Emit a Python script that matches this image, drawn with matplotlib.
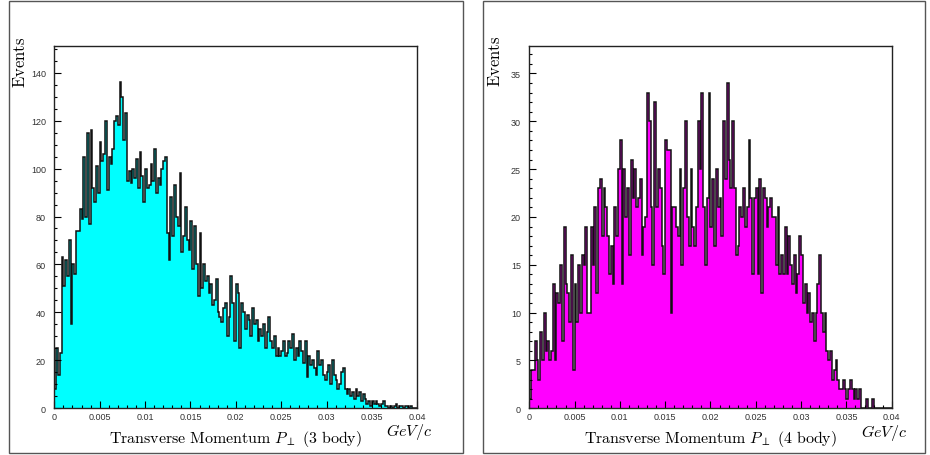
import numpy as np
import matplotlib
matplotlib.use("Agg")
import matplotlib.pyplot as plt
from matplotlib.patches import Rectangle
from matplotlib.ticker import MultipleLocator, FuncFormatter

plt.rcParams['mathtext.fontset'] = 'cm'

# 200 bins from 0 to 0.04 GeV/c
edges = np.linspace(0, 0.04, 201)

# 3 body transverse momentum, counts per bin
body3 = [
    8, 25, 14, 23, 63, 51, 62, 55, 70, 35,
    60, 56, 74, 74, 83, 79, 105, 80, 115, 77,
    116, 92, 86, 101, 90, 111, 103, 106, 120, 91,
    105, 102, 108, 120, 122, 118, 136, 130, 112, 123,
    95, 99, 94, 100, 96, 104, 92, 107, 97, 86,
    100, 92, 93, 102, 95, 108, 90, 96, 93, 100,
    103, 105, 73, 62, 88, 72, 93, 80, 76, 98,
    65, 72, 84, 70, 66, 78, 58, 76, 60, 47,
    73, 50, 60, 53, 55, 48, 52, 43, 45, 54,
    40, 38, 36, 42, 44, 30, 38, 55, 44, 28,
    52, 48, 25, 44, 40, 33, 39, 37, 30, 42,
    35, 37, 28, 33, 30, 35, 25, 32, 38, 28,
    25, 30, 22, 25, 22, 24, 28, 22, 23, 28,
    25, 31, 20, 25, 22, 28, 24, 19, 28, 13,
    22, 18, 20, 17, 14, 24, 18, 20, 14, 12,
    15, 18, 10, 20, 14, 12, 8, 10, 15, 17,
    8, 6, 8, 5, 7, 4, 8, 5, 7, 3,
    6, 4, 2, 3, 1, 3, 2, 3, 2, 1,
    2, 3, 1, 1, 0, 1, 0, 1, 2, 0,
    1, 1, 0, 1, 1, 0, 1, 0, 0, 0,
]

# 4 body transverse momentum
body4 = [
    1, 4, 4, 7, 5, 3, 8, 5, 10, 6,
    7, 5, 6, 13, 5, 12, 11, 15, 7, 19,
    13, 12, 9, 16, 4, 13, 9, 15, 10, 16,
    15, 19, 10, 10, 19, 15, 21, 12, 23, 24,
    18, 23, 21, 18, 14, 17, 13, 21, 18, 25,
    28, 13, 25, 20, 23, 16, 26, 22, 25, 21,
    22, 24, 16, 19, 20, 33, 30, 21, 15, 32,
    21, 25, 23, 17, 14, 28, 27, 27, 10, 21,
    21, 19, 18, 25, 15, 23, 30, 20, 17, 25,
    19, 17, 21, 30, 25, 33, 21, 15, 22, 33,
    19, 24, 17, 25, 21, 22, 18, 30, 24, 34,
    26, 23, 30, 23, 16, 17, 21, 20, 23, 19,
    21, 28, 22, 14, 22, 23, 14, 24, 12, 23,
    22, 19, 21, 22, 20, 20, 15, 21, 14, 16,
    14, 19, 14, 18, 15, 13, 16, 12, 14, 18,
    16, 11, 13, 10, 12, 9, 10, 7, 10, 13,
    16, 10, 8, 10, 6, 5, 6, 3, 4, 5,
    3, 2, 2, 3, 2, 1, 2, 3, 2, 1,
    2, 1, 2, 0, 0, 0, 1, 0, 0, 1,
    0, 0, 0, 0, 0, 0, 0, 0, 0, 0,
]

panels = [
    (body3, '#00ffff', 151, 20, 5, '3 body', [0.0584, 0.1024, 0.3903, 0.7939]),
    (body4, '#ff00ff', 37.9, 5, 1, '4 body', [0.5691, 0.1024, 0.3897, 0.7952]),
]

fig = plt.figure(figsize=(9.3, 4.56), dpi=100)

# outer frames around each pad
for x0, x1 in [(9, 463), (483, 925)]:
    fig.patches.append(Rectangle((x0 / 930, 2 / 456), (x1 - x0) / 930, 452 / 456,
                                 transform=fig.transFigure, fill=False,
                                 edgecolor='#555555', lw=1.0))

def xfmt(v, pos):
    if abs(v) < 1e-9:
        return '0'
    return ('%.3f' % v).rstrip('0')

for vals, col, ymax, ymaj, ymin, lab, rect in panels:
    ax = fig.add_axes(rect)
    ax.stairs(vals, edges, fill=True, color=col, baseline=0)
    ax.stairs(vals, edges, color='#111111', lw=1.1, baseline=0)
    ax.set_xlim(0, 0.04)
    ax.set_ylim(0, ymax)
    ax.xaxis.set_major_locator(MultipleLocator(0.005))
    ax.xaxis.set_minor_locator(MultipleLocator(0.001))
    ax.yaxis.set_major_locator(MultipleLocator(ymaj))
    ax.yaxis.set_minor_locator(MultipleLocator(ymin))
    ax.xaxis.set_major_formatter(FuncFormatter(xfmt))
    ax.tick_params(which='both', direction='in', labelsize=6.5,
                   labelcolor='#333333', width=0.8)
    ax.tick_params(which='major', length=5)
    ax.tick_params(which='minor', length=2.5)
    ax.tick_params(axis='y', pad=6)
    ax.tick_params(axis='x', pad=3)
    for s in ax.spines.values():
        s.set_linewidth(1.0)
        s.set_color('#222222')
    for t in ax.get_xticklabels() + ax.get_yticklabels():
        t.set_family('Liberation Sans')

    # axis titles in the ROOT/latex look
    ax.text(-0.095, 1.03, r'$\mathrm{Events}$', transform=ax.transAxes,
            rotation=90, ha='center', va='top', fontsize=12)
    ax.set_xlabel(r'$\mathrm{Transverse\ Momentum}\ P_{\perp}\ \mathrm{(%s)}$'
                  % lab.replace(' ', r'\ '), fontsize=11.5, labelpad=5)
    ax.text(1.042, -0.064, r'$GeV/c$', transform=ax.transAxes,
            ha='right', va='center', fontsize=11.5)

fig.savefig('out.png', dpi=100)
